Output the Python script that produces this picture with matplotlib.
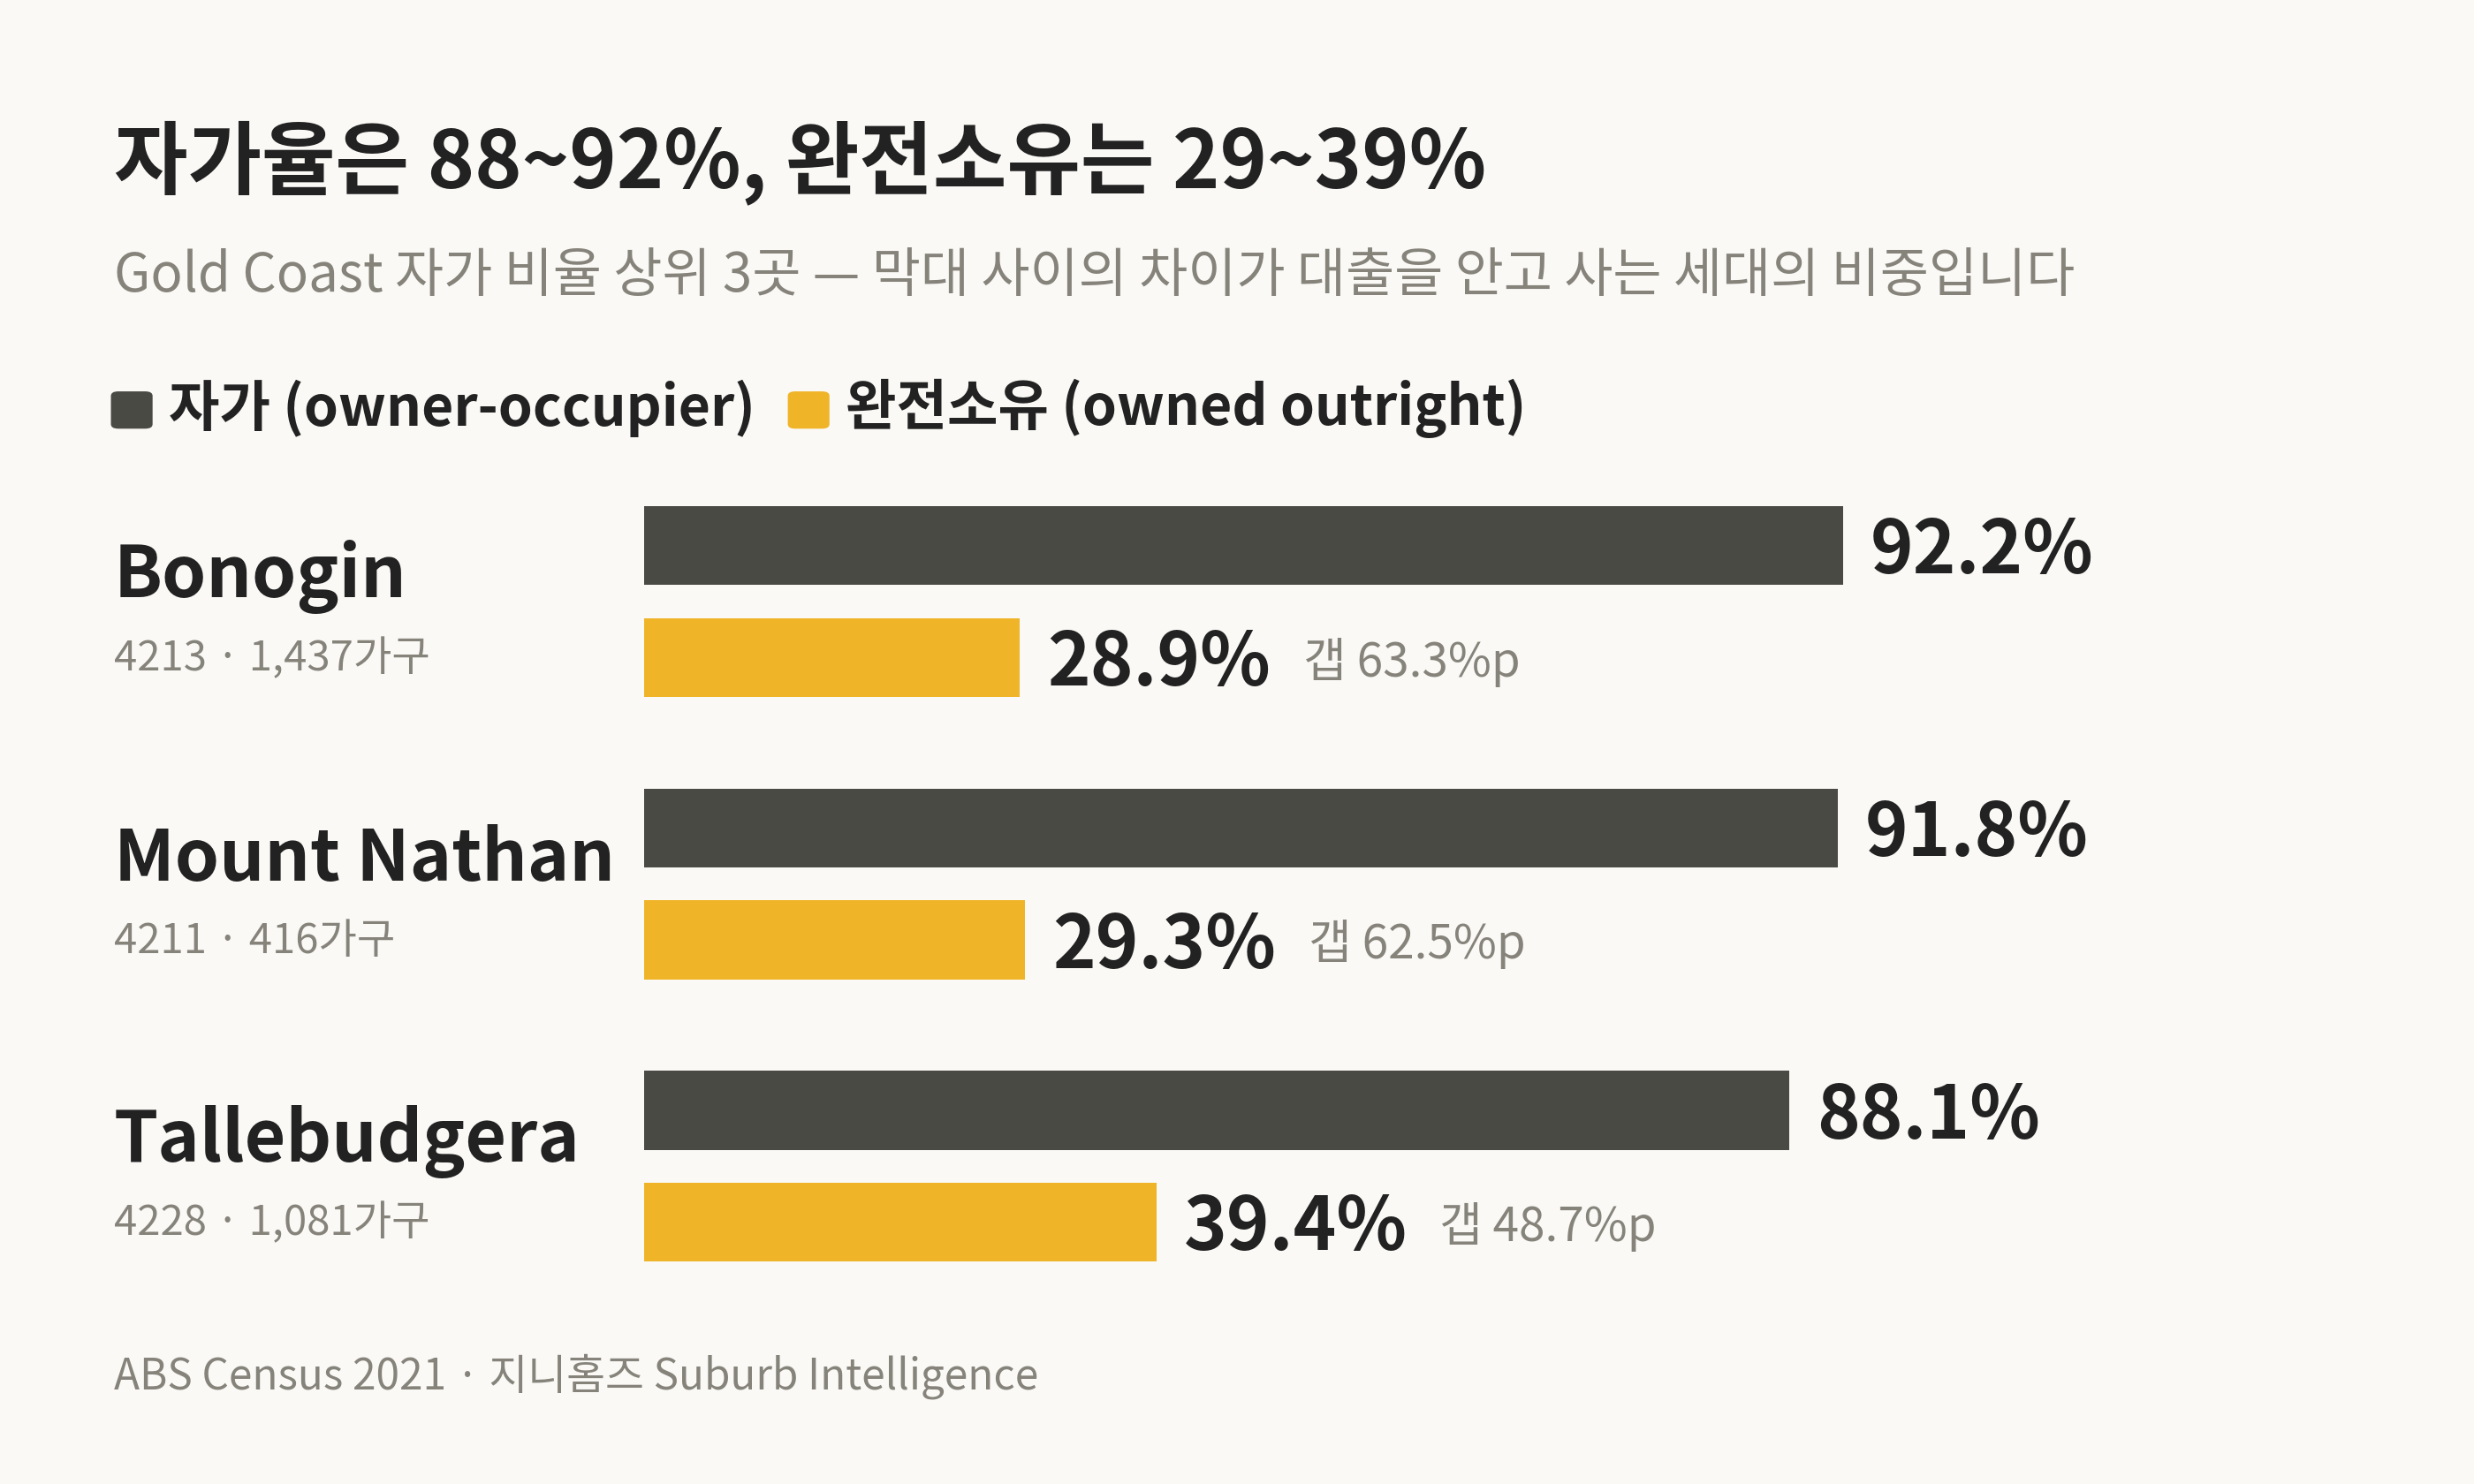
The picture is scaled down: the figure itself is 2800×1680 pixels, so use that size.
import matplotlib
matplotlib.use("Agg")
import matplotlib.pyplot as plt
from matplotlib.patches import FancyBboxPatch

suburbs = ["Bonogin", "Mount Nathan", "Tallebudgera"]
sublabels = ["4213 · 1,437가구", "4211 · 416가구", "4228 · 1,081가구"]
owner = [92.2, 91.8, 88.1]
outright = [28.9, 29.3, 39.4]
gaps = [63.3, 62.5, 48.7]

BG = "#FAF9F6"; DARK = "#4A4A44"; YEL = "#F0B429"; TXT = "#222222"; GRAY = "#85837A"
plt.rcParams['font.family'] = ['Noto Sans CJK KR', 'DejaVu Sans']

W, H = 1568, 941
fig = plt.figure(figsize=(14, 8.4), dpi=200, facecolor=BG)
def fx(px): return px / W
def fy(py): return 1 - py / H

fig.text(fx(72), fy(103), "자가율은 88~92%, 완전소유는 29~39%", fontsize=32.7, fontweight='bold', color=TXT, va='center')
fig.text(fx(72), fy(175), "Gold Coast 자가 비율 상위 3곳 — 막대 사이의 차이가 대출을 안고 사는 세대의 비중입니다",
         fontsize=21.6, color=GRAY, va='center')
for x0, c in [(72, DARK), (501, YEL)]:
    fig.patches.append(FancyBboxPatch((fx(x0 + 3), fy(269)), fx(17), 18 / H,
                                      boxstyle="round,pad=0.003", transform=fig.transFigure,
                                      facecolor=c, edgecolor='none'))
fig.text(fx(107), fy(259), "자가 (owner-occupier)", fontsize=22.5, fontweight='bold', color=TXT, va='center')
fig.text(fx(536), fy(259), "완전소유 (owned outright)", fontsize=22.5, fontweight='bold', color=TXT, va='center')
fig.text(fx(72), fy(873), "ABS Census 2021 · 지니홈즈 Suburb Intelligence", fontsize=17.2, color=GRAY, va='center')

left, right, top, bottom = 408, 1568, 300, 830
ax = fig.add_axes([fx(left), fy(bottom), fx(right - left), (bottom - top) / H])
ax.set_facecolor('none')
pxper = 760 / 92.2
ax.set_xlim(0, (right - left) / pxper)
ax.set_ylim(bottom, top)
ax.axis('off')

for i, s in enumerate(suburbs):
    yd = 346 + 179 * i
    yy = 417 + 179 * i
    ax.barh(yd, owner[i], height=50, color=DARK)
    ax.barh(yy, outright[i], height=50, color=YEL)
    ax.text(owner[i] + 2.1, yd + 4, f"{owner[i]:.1f}%", fontsize=29.8, fontweight='bold', color=TXT, va='center')
    ax.text(outright[i] + 2.1, yy + 4, f"{outright[i]:.1f}%", fontsize=29.8, fontweight='bold', color=TXT, va='center')
    ax.text(outright[i] + 21.8, yy + 3, f"갭 {gaps[i]:.1f}%p", fontsize=19.1, color=GRAY, va='center')
    fig.text(fx(72), fy(366 + 179 * i), s, fontsize=29, fontweight='bold', color=TXT, va='center')
    fig.text(fx(72), fy(418 + 179 * i), sublabels[i], fontsize=17, color=GRAY, va='center')

fig.savefig("out.png", dpi=200, facecolor=BG)
